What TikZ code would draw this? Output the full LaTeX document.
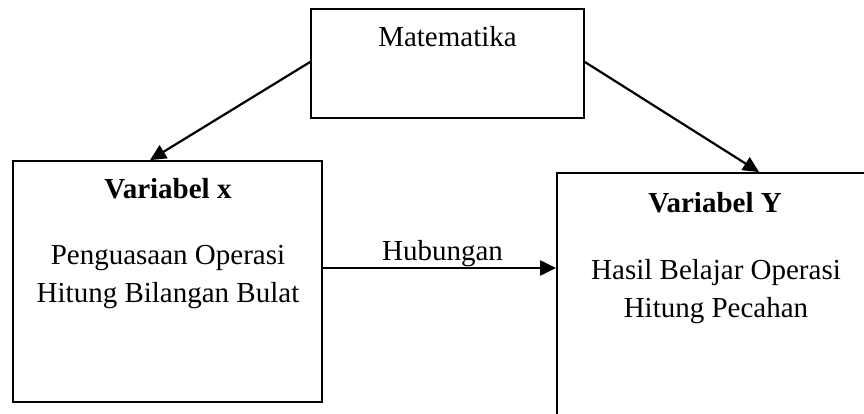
\documentclass[tikz,border=0pt]{standalone}
\usepackage{fontspec}
\setmainfont{Liberation Serif}
\usetikzlibrary{arrows.meta}
\begin{document}
\begin{tikzpicture}[x=1pt,y=-1pt,
  box/.style={draw=black,line width=1.8pt,rectangle,inner sep=0pt},
  txt/.style={anchor=base,font=\fontsize{29}{37}\selectfont,inner sep=0pt},
  arr/.style={line width=2.2pt,-{Triangle[length=16pt,width=15pt]}}]
\useasboundingbox (0,0) rectangle (864,414);
\clip (0,0) rectangle (864,414);
\node[box,minimum width=273pt,minimum height=109pt] (mat) at (447.5,63.5) {};
\node[box,minimum width=309pt,minimum height=241pt] (lx) at (167.5,281.5) {};
\node[box,minimum width=323pt,minimum height=257pt] (ry) at (718.5,301.5) {};
\node[txt] (matT) at (447.5,47) {Matematika};
\node[txt,font=\fontsize{29}{37}\selectfont\bfseries] (lxT) at (168,199) {Variabel x};
\node[txt] (lx1) at (168,264) {Penguasaan Operasi};
\node[txt] (lx2) at (168,302) {Hitung Bilangan Bulat};
\node[txt,font=\fontsize{29}{37}\selectfont\bfseries] (ryT) at (715,212) {Variabel Y};
\node[txt] (ry1) at (716,279) {Hasil Belajar Operasi};
\node[txt] (ry2) at (716,317) {Hitung Pecahan};
\node[txt] (hub) at (442.5,260) {Hubungan};
\draw[arr] ([yshift=1.5pt]mat.west) -- ([xshift=-17.5pt]lx.north);
\draw[arr] ([yshift=1.5pt]mat.east) -- ([xshift=203pt]ry.north west);
\coordinate (h1) at ([yshift=13.5pt]lx.east);
\draw[arr] (h1) -- (h1 -| ry.west);
\end{tikzpicture}
\end{document}
